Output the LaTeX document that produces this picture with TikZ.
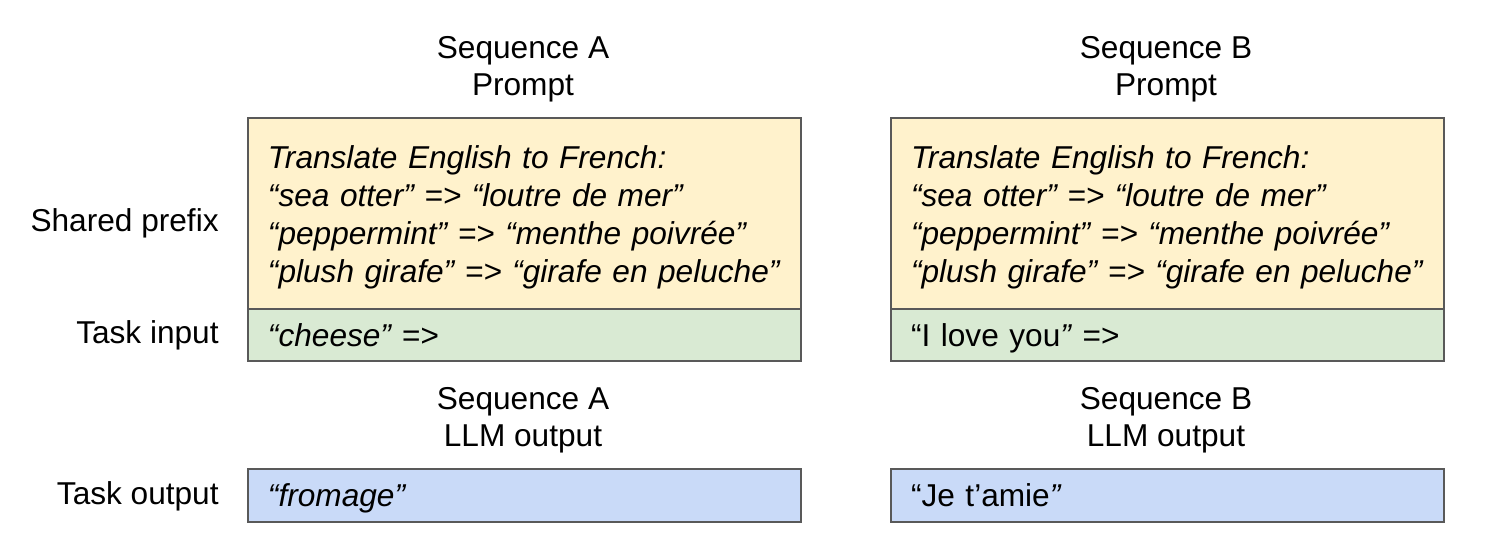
\documentclass[tikz,border=0pt]{standalone}
\usepackage{fontspec}
\setmainfont{Liberation Sans}
\usetikzlibrary{positioning}

\definecolor{prefixfill}{HTML}{FFF2CC}
\definecolor{inputfill}{HTML}{D9EAD3}
\definecolor{outputfill}{HTML}{C9DAF8}
\definecolor{boxline}{HTML}{595959}

\begin{document}
\begin{tikzpicture}[x=0.02cm, y=-0.02cm,
    every node/.style={font=\fontsize{18}{21.6}\selectfont, inner sep=0pt},
    seqbox/.style={draw=boxline, line width=0.04cm, anchor=north west,
        minimum width=11.06cm, text width=10.26cm, align=left, inner xsep=0.4cm},
    prefixbox/.style={seqbox, fill=prefixfill, minimum height=3.82cm, text height=0.62cm},
    inputbox/.style={seqbox, fill=inputfill, minimum height=1.04cm,
        text height=0.6cm, text depth=0.12cm},
    outputbox/.style={seqbox, fill=outputfill, minimum height=1.06cm,
        text height=0.58cm, text depth=0.14cm},
    head/.style={align=center, anchor=base},
    rowlabel/.style={anchor=base east}]
    \useasboundingbox (0,0) rectangle (1485,540);

    % headings
    \node[head] (promptA) at (523,96) {Sequence A\\Prompt};
    \node[head] (promptB) at (1166,96) {Sequence B\\Prompt};
    \node[head] (llmA) at (523,447) {Sequence A\\LLM output};
    \node[head] (llmB) at (1166,447) {Sequence B\\LLM output};

    % row labels
    \node[rowlabel] (sharedlbl) at (219,232) {Shared prefix};
    \node[rowlabel] (inputlbl) at (219,344) {Task input};
    \node[rowlabel] (outputlbl) at (219,505) {Task output};

    % sequence A
    \node[prefixbox] (prefixA) at (247,117) {\itshape Translate English to French:\\
        “sea otter” => “loutre de mer”\\
        “peppermint” => “menthe poivrée”\\
        “plush girafe” => “girafe en peluche”};
    \node[inputbox] (inputA) at (247,308) {\itshape “cheese” =>};
    \node[outputbox] (outputA) at (247,468) {\itshape “fromage”};

    % sequence B
    \node[prefixbox] (prefixB) at (890,117) {\itshape Translate English to French:\\
        “sea otter” => “loutre de mer”\\
        “peppermint” => “menthe poivrée”\\
        “plush girafe” => “girafe en peluche”};
    \node[inputbox] (inputB) at (890,308) {“I love you\textit{”} =>};
    \node[outputbox] (outputB) at (890,468) {“Je t’amie\textit{”}};
\end{tikzpicture}
\end{document}
